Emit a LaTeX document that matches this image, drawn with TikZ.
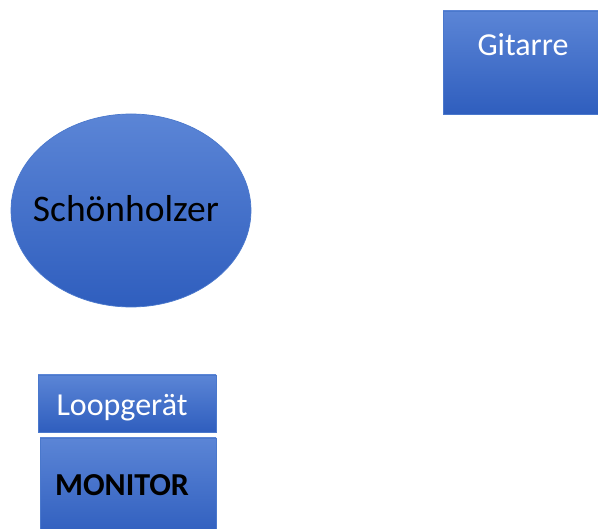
\documentclass[tikz,border=0pt]{standalone}
\usepackage{fontspec}
\setmainfont{Carlito}
\usetikzlibrary{positioning,shapes.geometric}
\definecolor{bluetop}{HTML}{5B85D6}
\definecolor{bluebot}{HTML}{2F5EBE}
\definecolor{blueedge}{HTML}{4A78CC}
\tikzset{
  block/.style={rectangle, draw=blueedge, line width=0.7pt, top color=bluetop, bottom color=bluebot, inner sep=0pt},
  blob/.style={ellipse, draw=blueedge, line width=0.7pt, top color=bluetop, bottom color=bluebot, inner sep=0pt},
  lighttext/.style={text=white, inner sep=0pt}
}
\newcommand{\fsz}[1]{\fontsize{#1}{#1}\selectfont}
\begin{document}
\begin{tikzpicture}[x=1pt, y=-1pt]
   \useasboundingbox (0,0) rectangle (598,529);
   \clip (0,0) rectangle (598,529);
   % boxes
   \node[block, minimum width=155pt, minimum height=103pt] (gitarre) at (520.5,62.5) {};
   \node[lighttext, font=\fsz{32}] (gitarretext) at (523,45) {Gitarre};
   \node[blob, minimum width=240pt, minimum height=193pt] (schoenholzer) at (131,210.5) {};
   \node[inner sep=0pt, font=\fsz{37.5}] (schoenholzertext) at (126,209) {Schönholzer};
   \node[block, minimum width=178pt, minimum height=57pt] (loop) at (127,403.5) {};
   \node[lighttext, font=\fsz{32}] (looptext) at (122,408) {Loopgerät};
   \node[block, minimum width=176pt, minimum height=100pt] (monitor) at (128,488) {};
   \node[inner sep=0pt, font=\fsz{32}\bfseries] (monitortext) at (122,485) {MONITOR};
\end{tikzpicture}
\end{document}
